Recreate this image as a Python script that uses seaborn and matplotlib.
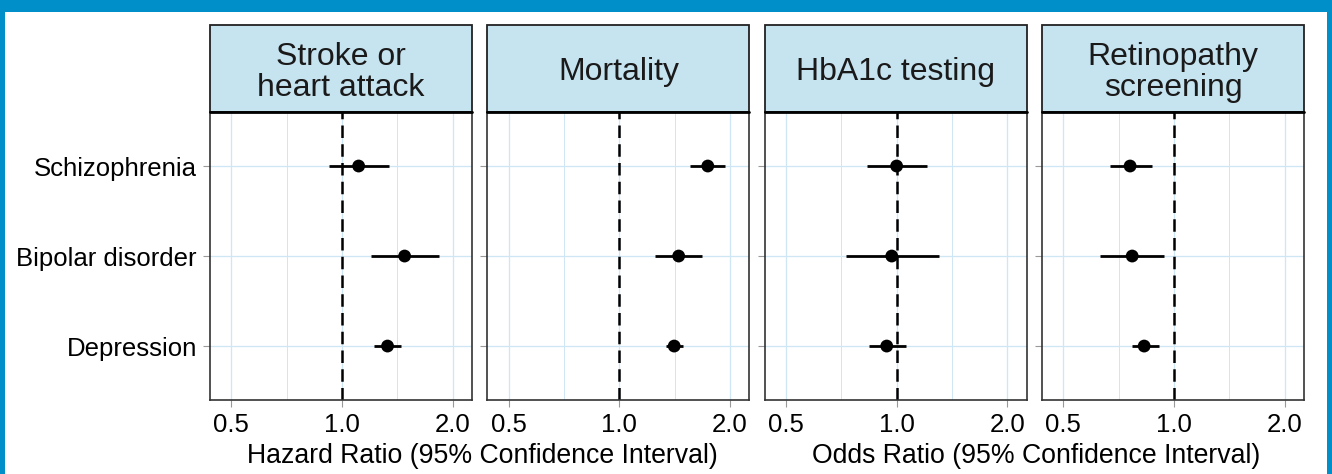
import numpy as np
import pandas as pd
import matplotlib.pyplot as plt
import seaborn as sns
from matplotlib.patches import Rectangle

# Data
conditions = ["Schizophrenia", "Bipolar disorder", "Depression"]
outcomes = ["Stroke or\nheart attack", "Mortality", "HbA1c testing", "Retinopathy\nscreening"]

stroke_est = [1.11, 1.48, 1.33]
stroke_lo = [0.92, 1.20, 1.22]
stroke_hi = [1.34, 1.83, 1.45]

mortality_est = [1.74, 1.45, 1.41]
mortality_lo = [1.56, 1.25, 1.34]
mortality_hi = [1.94, 1.68, 1.49]

hba1c_est = [1.00, 0.97, 0.94]
hba1c_lo = [0.83, 0.73, 0.84]
hba1c_hi = [1.21, 1.30, 1.06]

retino_est = [0.76, 0.77, 0.83]
retino_lo = [0.67, 0.63, 0.77]
retino_hi = [0.87, 0.94, 0.91]

x_ticks = [0.5, 1.0, 2.0]
x_tick_labels = ["0.5", "1.0", "2.0"]
x_minor = [0.5 ** 0.5, 2 ** 0.5]

series = [
    (stroke_est, stroke_lo, stroke_hi),
    (mortality_est, mortality_lo, mortality_hi),
    (hba1c_est, hba1c_lo, hba1c_hi),
    (retino_est, retino_lo, retino_hi),
]

rows = []
for outcome, (est, lo, hi) in zip(outcomes, series):
    for i, cond in enumerate(conditions):
        rows.append({"outcome": outcome, "condition": cond, "pos": i,
                     "est": est[i], "lo": lo[i], "hi": hi[i]})
df = pd.DataFrame(rows)

sns.set_theme(style="white")
plt.rcParams["font.family"] = ["Liberation Sans", "DejaVu Sans"]

GRID = "#cfe6f4"
STRIP = "#c6e3f0"
BLUE = "#008fc8"

fig, axes = plt.subplots(1, 4, figsize=(13.32, 4.74), dpi=100, sharey=True)
fig.subplots_adjust(left=0.1577, right=0.979, bottom=0.156, top=0.7637, wspace=0.0585)

# blue frame around the figure
fig.patches.append(Rectangle((0, 0), 1, 1, transform=fig.transFigure,
                             facecolor=BLUE, edgecolor="none", zorder=-3))
fig.patches.append(Rectangle((5 / 1332, 0), 1322 / 1332, 1 - 12 / 474,
                             transform=fig.transFigure, facecolor="white",
                             edgecolor="none", zorder=-2))

for ax, outcome in zip(axes, outcomes):
    sub = df[df["outcome"] == outcome]
    ax.set_xscale("log", base=2)
    ax.set_xlim(0.438, 2.257)
    ax.set_ylim(2.6, -0.6)

    ax.hlines(sub["pos"], sub["lo"], sub["hi"], color="black", lw=2.0, zorder=3)
    sns.scatterplot(data=sub, x="est", y="pos", ax=ax, color="black", s=85,
                    edgecolor="none", zorder=4, legend=False)
    ax.axvline(1.0, color="black", lw=1.8, dashes=(5, 2.5), zorder=2)

    ax.set_xticks(x_ticks)
    ax.set_xticklabels(x_tick_labels)
    ax.set_xticks(x_minor, minor=True)
    ax.set_xticklabels([], minor=True)
    ax.set_yticks(range(len(conditions)))
    ax.set_yticklabels(conditions)

    ax.grid(True, which="major", axis="both", color=GRID, lw=0.9, zorder=0)
    ax.grid(True, which="minor", axis="x", color=GRID, lw=0.7, zorder=0)
    ax.set_axisbelow(True)

    ax.tick_params(axis="both", which="major", length=5, width=0.8, color="#999999",
                   labelsize=18.5, labelcolor="black", pad=4.5, bottom=True, left=True)
    ax.tick_params(axis="x", which="minor", length=0)
    for sp in ax.spines.values():
        sp.set_color("#333333")
        sp.set_linewidth(1.2)
    ax.set_xlabel("")
    ax.set_ylabel("")

    # facet strip
    ax.add_patch(Rectangle((0, 1), 1, 87 / 288, transform=ax.transAxes, clip_on=False,
                           facecolor=STRIP, edgecolor="#222222", lw=1.3, zorder=5))
    ax.plot([0, 1], [1, 1], transform=ax.transAxes, color="black", lw=2.0,
            clip_on=False, zorder=6)
    ax.text(0.5, 1 + (87 / 2 - 4) / 288, outcome, transform=ax.transAxes, ha="center",
            va="center", fontsize=23, color="#1a1a1a", linespacing=1.08, zorder=7)

for ax in axes[1:]:
    ax.tick_params(axis="y", labelleft=False)

fig.text(482 / 1332, 1 - 463 / 474, "Hazard Ratio (95% Confidence Interval)",
         ha="center", va="baseline", fontsize=19.2, color="black")
fig.text(1036 / 1332, 1 - 463 / 474, "Odds Ratio (95% Confidence Interval)",
         ha="center", va="baseline", fontsize=19.2, color="black")

fig.savefig("out.png", dpi=100)
